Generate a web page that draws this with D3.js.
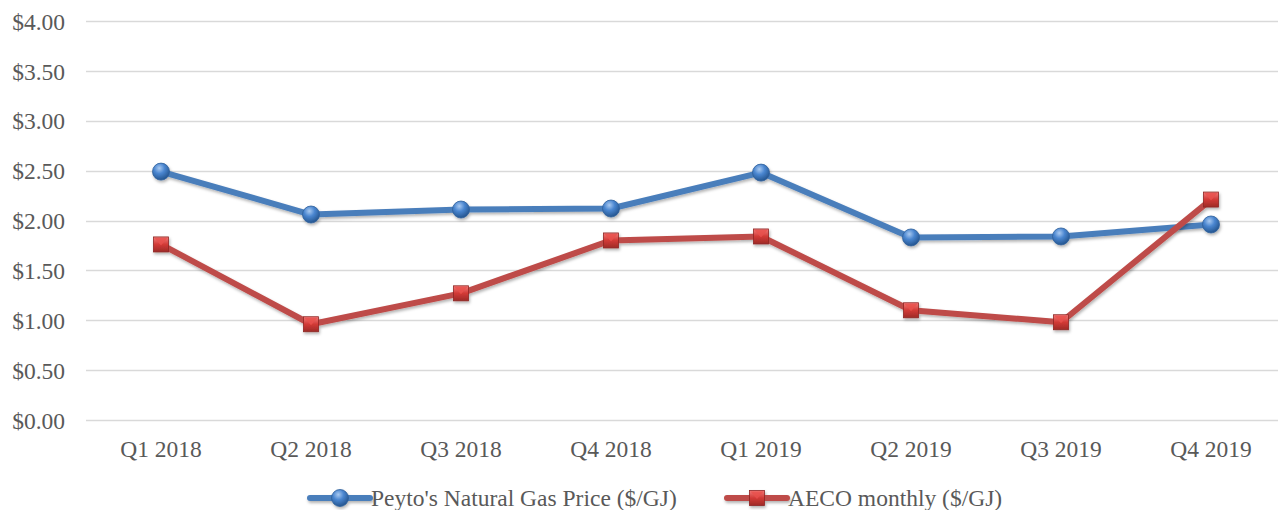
<!DOCTYPE html>
<html><head><meta charset="utf-8">
<script src="https://cdn.jsdelivr.net/npm/d3@7/dist/d3.min.js"></script>
<style>body{margin:0;background:#fff;}svg{display:block;}</style>
</head><body>
<svg id="chart" width="1278" height="510"></svg>
<script>
const categories = ["Q1 2018","Q2 2018","Q3 2018","Q4 2018","Q1 2019","Q2 2019","Q3 2019","Q4 2019"];
const peytoValues = [2.49, 2.06, 2.11, 2.12, 2.48, 1.83, 1.84, 1.96];
const aecoValues = [1.76, 0.96, 1.27, 1.80, 1.84, 1.10, 0.98, 2.21];
const yTicks = [0, 0.5, 1, 1.5, 2, 2.5, 3, 3.5, 4];
const seriesNames = ["Peyto's Natural Gas Price ($/GJ)", "AECO monthly ($/GJ)"];

const svg = d3.select("#chart");
const margin = {left: 86, right: -8, top: 21, bottom: 90};
const W = 1278, H = 510;
const x = d3.scaleBand().domain(categories).range([margin.left, W - margin.right]);
const y = d3.scaleLinear().domain([0, 4]).range([H - margin.bottom, margin.top]);
const font = "'Liberation Serif','Times New Roman',serif";
const fs = 23.5;

const defs = svg.append("defs");
const shadow = defs.append("filter").attr("id","shadow").attr("x","-20%").attr("y","-20%").attr("width","140%").attr("height","160%");
shadow.append("feDropShadow").attr("dx",1).attr("dy",2).attr("stdDeviation",1.5).attr("flood-color","#000").attr("flood-opacity",0.3);
const bg = defs.append("radialGradient").attr("id","blueGrad").attr("cx","40%").attr("cy","30%").attr("r","70%");
bg.append("stop").attr("offset","0%").attr("stop-color","#a9c9f0");
bg.append("stop").attr("offset","45%").attr("stop-color","#4a86d0");
bg.append("stop").attr("offset","100%").attr("stop-color","#24558f");
const rg = defs.append("linearGradient").attr("id","redGrad").attr("x1","0").attr("y1","0").attr("x2","0").attr("y2","1");
rg.append("stop").attr("offset","0%").attr("stop-color","#f07c7a");
rg.append("stop").attr("offset","50%").attr("stop-color","#d23a36");
rg.append("stop").attr("offset","100%").attr("stop-color","#9e2a27");

// gridlines
svg.append("g").selectAll("line").data(yTicks).join("line")
  .attr("x1", margin.left).attr("x2", W - margin.right)
  .attr("y1", d => Math.round(y(d)) + 0.5).attr("y2", d => Math.round(y(d)) + 0.5)
  .attr("stroke", "#d9d9d9").attr("stroke-width", 1.5);

// y axis labels
const yAxis = d3.axisLeft(y).tickValues(yTicks).tickFormat(d => "$" + d.toFixed(2)).tickSize(0).tickPadding(0);
const ya = svg.append("g").attr("transform", `translate(${margin.left - 21},0)`).call(yAxis);
ya.select(".domain").remove();
ya.selectAll("text").attr("font-family", font).attr("font-size", fs).attr("fill", "#595959").attr("dy","0.35em").attr("x", 0);

// x axis labels
const xAxis = d3.axisBottom(x).tickSize(0).tickPadding(0);
const xa = svg.append("g").attr("transform", `translate(0,${y(0) + 29})`).call(xAxis);
xa.select(".domain").remove();
xa.selectAll("text").attr("font-family", font).attr("font-size", fs).attr("fill", "#595959").attr("dy","0.35em");

const line = d3.line().x((d,i) => x(categories[i]) + x.bandwidth()/2).y(d => y(d));

function drawSeries(vals, color, type) {
  const g = svg.append("g").attr("filter","url(#shadow)");
  g.append("path").datum(vals).attr("d", line).attr("fill","none").attr("stroke", color).attr("stroke-width", 6).attr("stroke-linejoin","round");
  vals.forEach((v,i) => {
    const cx = x(categories[i]) + x.bandwidth()/2, cy = y(v);
    drawMarker(g, cx, cy, type);
  });
}
function drawMarker(g, cx, cy, type) {
  if (type === "circle") {
    g.append("circle").attr("cx", cx).attr("cy", cy).attr("r", 8.5).attr("fill","url(#blueGrad)").attr("stroke","#2f5f9a").attr("stroke-width",0.8);
  } else {
    const s = 15;
    g.append("rect").attr("x", cx - s/2).attr("y", cy - s/2).attr("width", s).attr("height", s).attr("fill","url(#redGrad)").attr("stroke","#8e2624").attr("stroke-width",0.8);
    g.append("path").attr("d", `M${cx-s/2+1},${cy-s/2+1}L${cx},${cy+1}L${cx+s/2-1},${cy-s/2+1}Z`).attr("fill","#e8504c").attr("opacity",0.8);
  }
}
drawSeries(peytoValues, "#4a7ebb", "circle");
drawSeries(aecoValues, "#be4b48", "square");

// legend
const legendY = 498;
const legendItems = [
  {name: seriesNames[0], color: "#4a7ebb", type: "circle", x0: 310},
  {name: seriesNames[1], color: "#be4b48", type: "square", x0: 727}
];
legendItems.forEach(it => {
  const g = svg.append("g");
  const gg = g.append("g").attr("filter","url(#shadow)");
  gg.append("line").attr("x1", it.x0).attr("x2", it.x0 + 60).attr("y1", legendY).attr("y2", legendY).attr("stroke", it.color).attr("stroke-width", 6).attr("stroke-linecap","round");
  drawMarker(gg, it.x0 + 30, legendY, it.type);
  g.append("text").attr("x", it.x0 + 61).attr("y", legendY).attr("dy","0.35em").attr("font-family", font).attr("font-size", fs).attr("fill","#595959").text(it.name);
});
</script>
</body></html>
